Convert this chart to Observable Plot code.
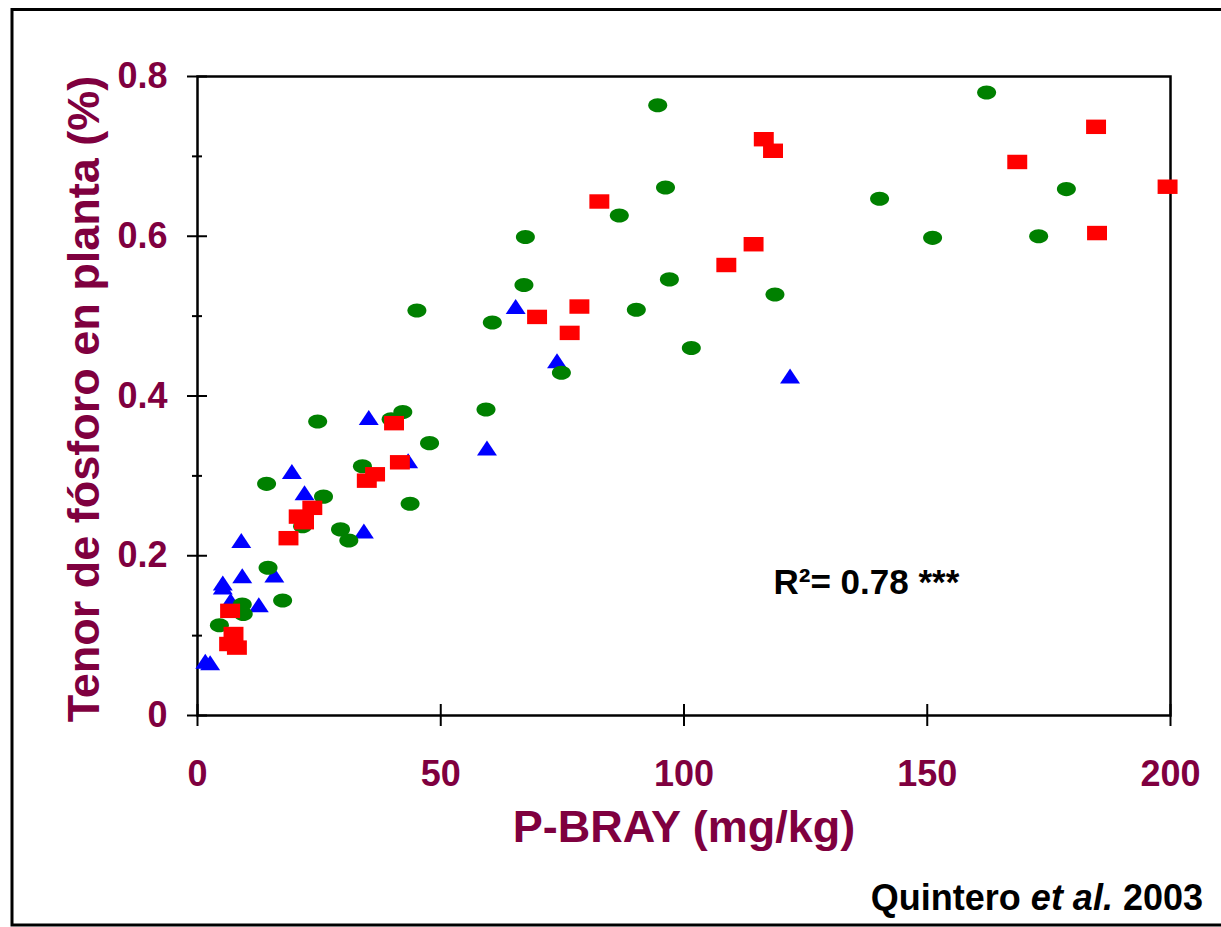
<!DOCTYPE html>
<html lang="es">
<head>
<meta charset="utf-8">
<script src="https://cdn.jsdelivr.net/npm/d3@7"></script>
<script src="https://cdn.jsdelivr.net/npm/@observablehq/plot@0.6"></script>
<style>
  html, body { margin: 0; padding: 0; background: #fff; overflow: hidden; }
  #chart { position: relative; width: 1221px; height: 927px; }
  #caption {
    position: absolute; right: 18px; top: 880px;
    font-family: "Liberation Sans", Arial, sans-serif;
    font-weight: bold; font-size: 36px; line-height: 36px; color: #000;
    white-space: nowrap;
  }
</style>
</head>
<body>
<div id="chart"><div id="caption">Quintero <em>et al.</em> 2003</div></div>
<script>
// P-Bray (mg/kg) and plant phosphorus content (%) for each group of sites
const greenP = [24.7, 42.2, 39.8, 47.7, 33.9, 14.2, 25.9, 21.6, 29.4, 31.1, 43.7, 14.5, 17.5, 9.2, 9.4, 4.5,
                45.1, 60.6, 59.3, 94.6, 96.2, 86.7, 67.4, 67.1, 97.0, 90.2, 118.7, 101.5, 74.8,
                162.2, 140.2, 178.6, 151.1, 172.9];
const greenTenor = [0.368, 0.380, 0.371, 0.341, 0.312, 0.290, 0.274, 0.237, 0.233, 0.219, 0.265, 0.185, 0.144, 0.139, 0.127, 0.113,
                    0.507, 0.492, 0.383, 0.764, 0.661, 0.626, 0.599, 0.539, 0.546, 0.508, 0.527, 0.460, 0.429,
                    0.780, 0.647, 0.659, 0.598, 0.600];

const redP = [40.4, 41.6, 36.5, 34.8, 23.6, 20.8, 21.9, 18.7, 6.7, 7.4, 6.5, 8.1,
              116.4, 118.3, 82.6, 114.3, 108.7, 78.5, 69.8, 76.5, 184.7, 168.5, 199.4, 184.9];
const redTenor = [0.366, 0.317, 0.302, 0.294, 0.260, 0.249, 0.242, 0.222, 0.131, 0.102, 0.0895, 0.085,
                  0.7215, 0.707, 0.6435, 0.590, 0.564, 0.512, 0.499, 0.479, 0.737, 0.693, 0.662, 0.604];

const blueP = [35.2, 43.3, 19.4, 22.0, 9.0, 34.2, 5.2, 5.2, 9.2, 15.8, 6.8, 12.6, 1.6, 2.6, 59.5, 65.4, 73.9, 121.8];
const blueTenor = [0.373, 0.319, 0.3055, 0.279, 0.219, 0.231, 0.166, 0.161, 0.175, 0.176, 0.144, 0.1386, 0.068, 0.066,
                   0.335, 0.512, 0.444, 0.425];

const xTicks = [0, 50, 100, 150, 200];
const yTicks = [0, 0.2, 0.4, 0.6, 0.8];
const yMinorTicks = [0.1, 0.3, 0.5, 0.7];

const xTitle = "P-BRAY (mg/kg)";
const yTitle = "Tenor de fósforo en planta (%)";
const r2Label = "R²= 0.78 ***";

// Build point tables from the series arrays
const toRows = (xs, ys) => xs.map((x, i) => ({x, y: ys[i]}));
const green = toRows(greenP, greenTenor);
const red = toRows(redP, redTenor);
const blue = toRows(blueP, blueTenor);

// Marker shapes: flattened ellipse, flattened rectangle, wide triangle
const ellipse = {
  draw(ctx, size) {
    const r = Math.sqrt(size / Math.PI), rx = r, ry = r * 0.74, k = 0.5523;
    ctx.moveTo(rx, 0);
    ctx.bezierCurveTo(rx, k * ry, k * rx, ry, 0, ry);
    ctx.bezierCurveTo(-k * rx, ry, -rx, k * ry, -rx, 0);
    ctx.bezierCurveTo(-rx, -k * ry, -k * rx, -ry, 0, -ry);
    ctx.bezierCurveTo(k * rx, -ry, rx, -k * ry, rx, 0);
    ctx.closePath();
  }
};
const box = {
  draw(ctx, size) {
    const r = Math.sqrt(size / Math.PI), w = r * 2.1, h = r * 1.52;
    ctx.rect(-w / 2, -h / 2, w, h);
  }
};
const tri = {
  draw(ctx, size) {
    const r = Math.sqrt(size / Math.PI), w = r * 2.1, h = r * 1.58;
    ctx.moveTo(0, -h / 2);
    ctx.lineTo(w / 2, h / 2);
    ctx.lineTo(-w / 2, h / 2);
    ctx.closePath();
  }
};

const maroon = "#7F003F";
const font = "'Liberation Sans', Arial, sans-serif";

const chart = Plot.plot({
  width: 1221,
  height: 927,
  marginLeft: 197,
  marginRight: 51,
  marginTop: 76,
  marginBottom: 212,
  style: {fontFamily: font, background: "transparent", overflow: "visible"},
  x: {domain: [0, 200]},
  y: {domain: [0, 0.8]},
  marks: [
    // outer border around the figure
    Plot.frame({stroke: "black", strokeWidth: 3, insetLeft: -185.5, insetTop: -67, insetBottom: -209.5, insetRight: -70}),
    // plot box
    Plot.frame({stroke: "black", strokeWidth: 2.5}),
    // tick marks crossing the axes
    Plot.ruleX(xTicks, {x: d => d, y1: 0, y2: 0, insetTop: -11, insetBottom: -11, stroke: "black", strokeWidth: 2}),
    Plot.ruleY(yTicks, {y: d => d, x1: 0, x2: 0, insetLeft: -10, insetRight: -10, stroke: "black", strokeWidth: 2}),
    Plot.ruleY(yMinorTicks, {y: d => d, x1: 0, x2: 0, insetLeft: -5, insetRight: -5, stroke: "black", strokeWidth: 2}),
    // tick labels
    Plot.axisX({ticks: xTicks, tickSize: 0, tickPadding: 45, label: null, tickFormat: d => String(d),
                fontSize: 36, fontWeight: "bold", fill: maroon}),
    Plot.axisY({ticks: yTicks, tickSize: 0, tickPadding: 30, label: null, tickFormat: d => d === 0 ? "0" : d.toFixed(1),
                fontSize: 36, fontWeight: "bold", fill: maroon}),
    // axis titles
    Plot.text([xTitle], {text: d => d, frameAnchor: "bottom", textAnchor: "middle", lineAnchor: "middle",
                         dy: 112, fontSize: 45, fontWeight: "bold", fill: maroon}),
    Plot.text([yTitle], {text: d => d, frameAnchor: "left", textAnchor: "middle", lineAnchor: "middle",
                         dx: -113, dy: 3, rotate: -90, fontSize: 45, fontWeight: "bold", fill: maroon}),
    // points
    Plot.dot(blue, {x: "x", y: "y", r: 9.5, symbol: tri, fill: "#0000FF", stroke: "none"}),
    Plot.dot(green, {x: "x", y: "y", r: 9.5, symbol: ellipse, fill: "#008000", stroke: "none"}),
    Plot.dot(red, {x: "x", y: "y", r: 9.5, symbol: box, fill: "#FF0000", stroke: "none"}),
    // fit annotation
    Plot.text([r2Label], {text: d => d, x: 118.4, y: 0.166, textAnchor: "start", fontSize: 35, fontWeight: "bold", fill: "black"})
  ]
});

document.getElementById("chart").prepend(chart);
</script>
</body>
</html>
